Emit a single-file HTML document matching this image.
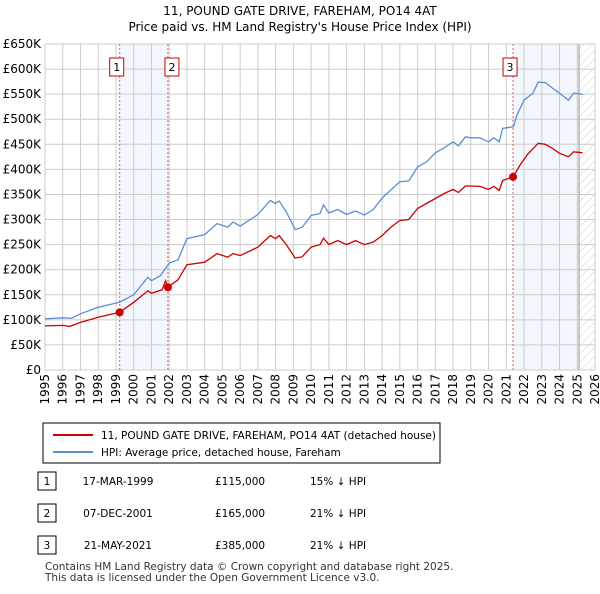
<!DOCTYPE html>
<html><head><meta charset="utf-8"><style>
body{margin:0;background:#fff;font-family:"DejaVu Sans",sans-serif;}
svg text{font-family:"DejaVu Sans",sans-serif;}
</style></head><body>
<svg width="600" height="590" xmlns="http://www.w3.org/2000/svg">
<defs><pattern id="hatch" width="6" height="6" patternUnits="userSpaceOnUse" patternTransform="rotate(45)"><line x1="0" y1="0" x2="0" y2="6" stroke="#ccc" stroke-width="1"/></pattern></defs>
<text x="300" y="15" text-anchor="middle" font-size="12">11, POUND GATE DRIVE, FAREHAM, PO14 4AT</text>
<text x="300" y="31" text-anchor="middle" font-size="12">Price paid vs. HM Land Registry's House Price Index (HPI)</text>
<g id="plot"></g>
<rect x="43" y="423" width="397" height="40" fill="#fff" stroke="#000"/>
<line x1="53" y1="435" x2="93" y2="435" stroke="#cc0000" stroke-width="2"/>
<text x="101" y="439" font-size="10.5">11, POUND GATE DRIVE, FAREHAM, PO14 4AT (detached house)</text>
<line x1="53" y1="452" x2="93" y2="452" stroke="#5b8fd4" stroke-width="2"/>
<text x="101" y="456" font-size="10.5">HPI: Average price, detached house, Fareham</text>
<g id="table" font-size="10.5"></g>
<text x="45" y="570" font-size="10.5" fill="#333">Contains HM Land Registry data © Crown copyright and database right 2025.</text>
<text x="45" y="581" font-size="10.5" fill="#333">This data is licensed under the Open Government Licence v3.0.</text>
</svg>
<script>
const yTicks=[0,50,100,150,200,250,300,350,400,450,500,550,600,650];
const years=[1995,1996,1997,1998,1999,2000,2001,2002,2003,2004,2005,2006,2007,2008,2009,2010,2011,2012,2013,2014,2015,2016,2017,2018,2019,2020,2021,2022,2023,2024,2025,2026];
const hpiT=[1995,1996,1996.5,1997,1998,1999.2,2000,2000.8,2001,2001.5,2002,2002.5,2003,2004,2004.7,2005.3,2005.6,2006,2007,2007.7,2008,2008.2,2008.6,2009.1,2009.5,2010,2010.5,2010.7,2011,2011.5,2012,2012.5,2013,2013.5,2014,2014.5,2015,2015.5,2016,2016.5,2017,2017.5,2018,2018.3,2018.7,2019,2019.5,2020,2020.3,2020.6,2020.8,2021.4,2021.6,2022,2022.5,2022.8,2023.2,2023.6,2024,2024.5,2024.8,2025.3];
const hpiV=[102,104,103,112,125,135,150,185,178,188,213,220,262,270,292,285,295,287,310,338,332,337,315,280,285,308,312,329,313,320,310,317,309,320,343,359,375,377,405,415,433,443,455,447,465,463,463,455,463,455,482,485,508,538,552,574,573,562,552,538,552,550];
const ppT=[1995,1996,1996.4,1997,1998,1999.21,2000,2000.8,2001,2001.6,2001.8,2001.93,2002.5,2003,2004,2004.7,2005.3,2005.6,2006,2007,2007.7,2008,2008.2,2008.6,2009.1,2009.5,2010,2010.5,2010.7,2011,2011.5,2012,2012.5,2013,2013.5,2014,2014.5,2015,2015.5,2016,2016.5,2017,2017.5,2018,2018.3,2018.7,2019.5,2020,2020.3,2020.6,2020.8,2021.38,2021.8,2022.2,2022.8,2023.2,2023.6,2024,2024.5,2024.8,2025.3];
const ppV=[88,89,87,95,105,115,135,158,153,160,178,165,180,210,215,232,225,232,228,245,268,262,268,250,223,226,245,250,263,250,258,250,258,250,255,268,285,298,300,322,332,342,352,360,354,367,366,360,366,358,378,385,410,430,452,450,442,432,425,435,433];
const saleT=[1999.21,2001.93,2021.38];
const saleV=[115,165,385];
const saleLabels=["1","2","3"];
const saleDates=["17-MAR-1999","07-DEC-2001","21-MAY-2021"];
const salePrices=["£115,000","£165,000","£385,000"];
const saleDiffs=["15% ↓ HPI","21% ↓ HPI","21% ↓ HPI"];
const ns="http://www.w3.org/2000/svg";
const X=t=>45+(t-1995)*(550/31), Y=v=>370-v*(326/650);
const g=document.getElementById('plot');
function mk(tag,at,parent){const e=document.createElementNS(ns,tag);for(const k in at)e.setAttribute(k,at[k]);(parent||g).appendChild(e);return e;}
let e;
e=mk('rect',{x:X(saleT[0]),y:44,width:X(saleT[1])-X(saleT[0]),height:326,fill:'#f3f6fd'});


e=mk('rect',{x:X(saleT[2]),y:44,width:X(2025.1)-X(saleT[2]),height:326,fill:'#f3f6fd'});


e=mk('rect',{x:X(2025.1),y:44,width:X(2026)-X(2025.1),height:326,fill:'url(#hatch)'});


yTicks.forEach(v=>{e=mk('line',{x1:45,x2:595,y1:Y(v),y2:Y(v),stroke:'#ccc'});


e=mk('text',{x:41,y:Y(v)+4,'text-anchor':'end','font-size':12});e.textContent=v==0?'£0':'£'+v+'K';

});
years.forEach(y=>{e=mk('line',{x1:X(y),x2:X(y),y1:44,y2:370,stroke:'#ccc'});


e=mk('text',{x:0,y:0,'text-anchor':'end','font-size':12,transform:`translate(${X(y)+4},374) rotate(-90)`});e.textContent=y;

});
e=mk('line',{x1:X(2025.1),x2:X(2025.1),y1:44,y2:370,stroke:'#999'});


saleT.forEach((t,i)=>{e=mk('line',{x1:X(t),x2:X(t),y1:44,y2:370,stroke:'#e06060','stroke-dasharray':'2,2'});


const bx=X(t)-(i==1?3:10);
e=mk('rect',{x:bx,y:58,width:14,height:18,fill:'#fff',stroke:'#cc0000'});


e=mk('text',{x:bx+7,y:71,'text-anchor':'middle','font-size':11});e.textContent=saleLabels[i];

});
const path=(T,V)=>T.map((t,i)=>(i?'L':'M')+X(t).toFixed(1)+','+Y(V[i]).toFixed(1)).join('');
e=mk('path',{d:path(hpiT,hpiV),fill:'none',stroke:'#5b8fd4','stroke-width':1.3});


e=mk('path',{d:path(ppT,ppV),fill:'none',stroke:'#cc0000','stroke-width':1.3});


saleT.forEach((t,i)=>{e=mk('circle',{cx:X(t),cy:Y(saleV[i]),r:4,fill:'#cc0000'});

});
const tb=document.getElementById('table');
saleT.forEach((t,i)=>{const y=481+i*32;
e=mk('rect',{x:38,y:y-9,width:18,height:18,fill:'#fff',stroke:'#000'},tb);


[[47,saleLabels[i],'middle'],[118,saleDates[i],'middle'],[215,salePrices[i],'start'],[310,saleDiffs[i],'start']].forEach(c=>{
e=mk('text',{x:c[0],y:y+4,'text-anchor':c[2]},tb);e.textContent=c[1];

});});
</script>
</body></html>
